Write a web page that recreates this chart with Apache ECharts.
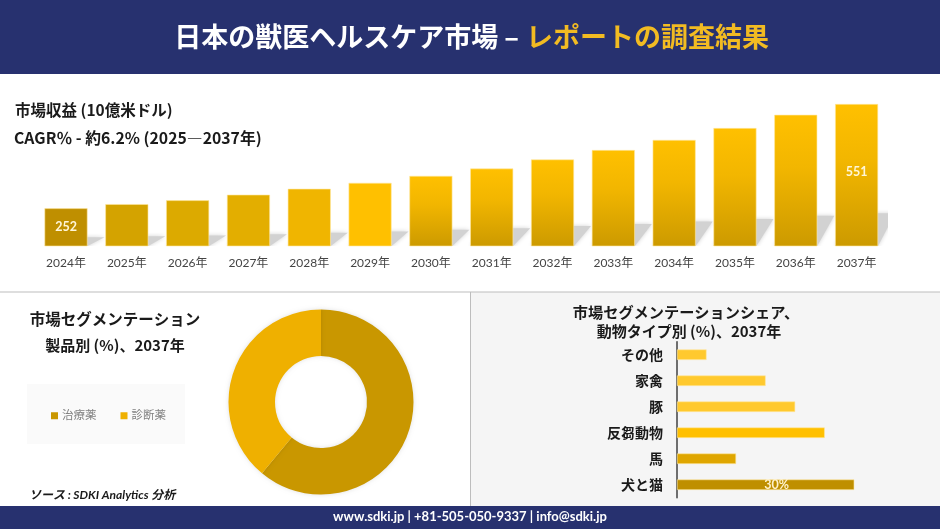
<!DOCTYPE html>
<html>
<head>
<meta charset="utf-8">
<style>
  html, body { margin: 0; padding: 0; background: #fff; }
  #chart { width: 940px; height: 529px; }
</style>
<script src="https://cdn.jsdelivr.net/npm/echarts@6/dist/echarts.min.js"></script>
</head>
<body>
<div id="chart"></div>
<script>
// revenue per year (axis does not start at zero in the original)
const years = ['2024年', '2025年', '2026年', '2027年', '2028年', '2029年', '2030年', '2031年', '2032年', '2033年', '2034年', '2035年', '2036年', '2037年'];
const revenue = [252, 264, 275, 291, 308, 325, 345, 366, 392, 419, 448, 482, 520, 551];
const labelledYears = ['2024年', '2037年'];

// donut
const productNames = ['治療薬', '診断薬'];
const productShare = [61, 39];

// horizontal bars, top to bottom in the picture
const animalTypes = ['犬と猫', '馬', '反芻動物', '豚', '家禽', 'その他'];
const animalShare = [30, 10, 25, 20, 15, 5];

const FONT = "Lato, 'Noto Sans CJK JP', sans-serif";
const CJK_FONT = "'Noto Sans CJK JP', sans-serif";
const NAVY = '#27316f';
const REVENUE_MIN = 144;
const BAR_W = 43;

// flat colours for the first bars, gradient for the rest
const flatColors = ['#bf8f00', '#d4a300', '#dcaa00', '#e3ae00', '#f0b500', '#ffc000'];
const animalColors = ['#bf8f00', '#dfa600', '#ffc000', '#ffc92e', '#ffc92e', '#ffc92e'];

function revenueColor(i) {
  if (i < flatColors.length) return flatColors[i];
  return new echarts.graphic.LinearGradient(0, 0, 0, 1, [
    { offset: 0, color: '#ffc000' },
    { offset: 0.4, color: '#f2b600' },
    { offset: 1, color: '#cc9a00' }
  ]);
}

function label(x, y, text, font, fill, align, family) {
  return {
    type: 'text',
    x: x,
    y: y,
    style: { text: text, font: font + ' ' + (family || CJK_FONT), fill: fill || '#1a1a1a', align: align || 'center', verticalAlign: 'middle' }
  };
}

// slanted floor shadow behind each revenue bar, fixed run, rise follows bar height
function renderShadow(params, api) {
  const idx = api.value(0);
  const top = api.coord([idx, api.value(1)]);
  const base = api.coord([idx, REVENUE_MIN]);
  const h = (base[1] - top[1]) * 0.23;
  const dx = 17;
  const hw = BAR_W / 2;
  return {
    type: 'polygon',
    shape: {
      points: [
        [top[0] - hw, base[1]],
        [top[0] - hw + dx, base[1] - h],
        [top[0] + hw + dx, base[1] - h],
        [top[0] + hw, base[1]]
      ]
    },
    style: { fill: '#d2d2d2', shadowBlur: 4, shadowColor: '#d2d2d2' }
  };
}

var myChart = echarts.init(document.getElementById('chart'));

var option = {
  animation: false,
  backgroundColor: '#ffffff',
  textStyle: { fontFamily: FONT },
  graphic: [
    // panels
    { type: 'rect', z: -1, shape: { x: 470, y: 292, width: 470, height: 214 }, style: { fill: '#f5f5f5' } },
    { type: 'rect', z: -1, shape: { x: 0, y: 291.5, width: 940, height: 1 }, style: { fill: '#bdbdbd' } },
    { type: 'rect', z: -1, shape: { x: 470, y: 292, width: 1, height: 214 }, style: { fill: '#bdbdbd' } },
    { type: 'rect', z: -1, shape: { x: 0, y: 0, width: 940, height: 74 }, style: { fill: NAVY } },
    { type: 'rect', z: -1, shape: { x: 0, y: 506, width: 940, height: 23 }, style: { fill: NAVY } },
    { type: 'rect', z: -1, shape: { x: 27, y: 384, width: 158, height: 60 }, style: { fill: '#fafafa' } },
    // header
    label(519, 37, '日本の獣医ヘルスケア市場 –', 'bold 27px', '#ffffff', 'right'),
    label(526, 37, 'レポートの調査結果', 'bold 27px', '#f2bb22', 'left'),
    // top left
    label(15, 110, '市場収益 (10億米ドル)', 'bold 15.5px', '#1a1a1a', 'left'),
    label(14, 138, 'CAGR％ - 約6.2% (2025―2037年)', 'bold 15.8px', '#1a1a1a', 'left'),
    // donut titles
    label(115, 319, '市場セグメンテーション', 'bold 15.5px'),
    label(115, 345, '製品別 (%)、2037年', 'bold 15px'),
    // bar titles
    label(686, 312, '市場セグメンテーションシェア、', 'bold 15.2px'),
    label(689, 331, '動物タイプ別 (%)、2037年', 'bold 15px'),
    // source and footer
    label(29, 495, 'ソース : SDKI Analytics 分析', 'italic bold 12px', '#1a1a1a', 'left', FONT),
    label(470, 517, 'www.sdki.jp | +81-505-050-9337 | info@sdki.jp', 'bold 13px', '#ffffff', 'center', FONT)
  ],
  legend: {
    left: 51,
    top: 410,
    padding: 0,
    icon: 'rect',
    itemWidth: 7,
    itemHeight: 7,
    itemGap: 24,
    textStyle: { color: '#808080', fontSize: 11.5, padding: [0, 0, 0, -1] },
    data: productNames
  },
  grid: [
    { left: 35.6, right: 53, top: 104, bottom: 283 },
    { left: 677, width: 177.3, top: 341.7, height: 156 }
  ],
  xAxis: [
    {
      type: 'category',
      gridIndex: 0,
      data: years,
      axisLine: { show: false },
      axisTick: { show: false },
      axisLabel: { color: '#444444', fontSize: 12, margin: 11, interval: 0 }
    },
    { type: 'value', gridIndex: 1, min: 0, max: 30, show: false }
  ],
  yAxis: [
    { type: 'value', gridIndex: 0, min: REVENUE_MIN, max: 551, show: false },
    {
      type: 'category',
      gridIndex: 1,
      data: animalTypes,
      axisLine: { show: true, lineStyle: { color: '#404040', width: 1.5 } },
      axisTick: { show: false },
      axisLabel: { color: '#1a1a1a', fontSize: 14, fontWeight: 'bold', fontFamily: CJK_FONT, margin: 14, interval: 0, padding: [0, 0, 3, 0] }
    }
  ],
  series: [
    {
      type: 'custom',
      xAxisIndex: 0,
      yAxisIndex: 0,
      z: 1,
      clip: true,
      silent: true,
      renderItem: renderShadow,
      data: revenue.map((v, i) => [i, v])
    },
    {
      type: 'bar',
      xAxisIndex: 0,
      yAxisIndex: 0,
      z: 2,
      barWidth: BAR_W,
      data: revenue.map((v, i) => ({
        value: v,
        itemStyle: { color: revenueColor(i), borderColor: '#ffe7a0', borderWidth: 0.6 },
        label: {
          show: labelledYears.includes(years[i]),
          position: 'inside',
          offset: [0, i === 0 ? 0 : -3],
          color: '#fff6d8',
          fontSize: 12.5,
          fontWeight: 'bold'
        }
      }))
    },
    {
      type: 'pie',
      center: [321, 402],
      radius: [46, 92.5],
      startAngle: 90,
      clockwise: true,
      label: { show: false },
      labelLine: { show: false },
      itemStyle: { shadowBlur: 4, shadowColor: 'rgba(0,0,0,0.12)' },
      color: ['#c99700', '#efb000'],
      data: productNames.map((n, i) => ({ name: n, value: productShare[i] }))
    },
    {
      type: 'bar',
      xAxisIndex: 1,
      yAxisIndex: 1,
      barWidth: 10.5,
      data: animalShare.map((v, i) => ({
        value: v,
        itemStyle: { color: animalColors[i], borderColor: '#ffe7a0', borderWidth: 0.6 },
        label: {
          show: i === 0,
          position: 'inside',
          offset: [11, 0],
          formatter: '{c}%',
          color: '#fff2cc',
          fontSize: 12.5,
          fontWeight: 'bold'
        }
      }))
    }
  ]
};

myChart.setOption(option);
</script>
</body>
</html>
